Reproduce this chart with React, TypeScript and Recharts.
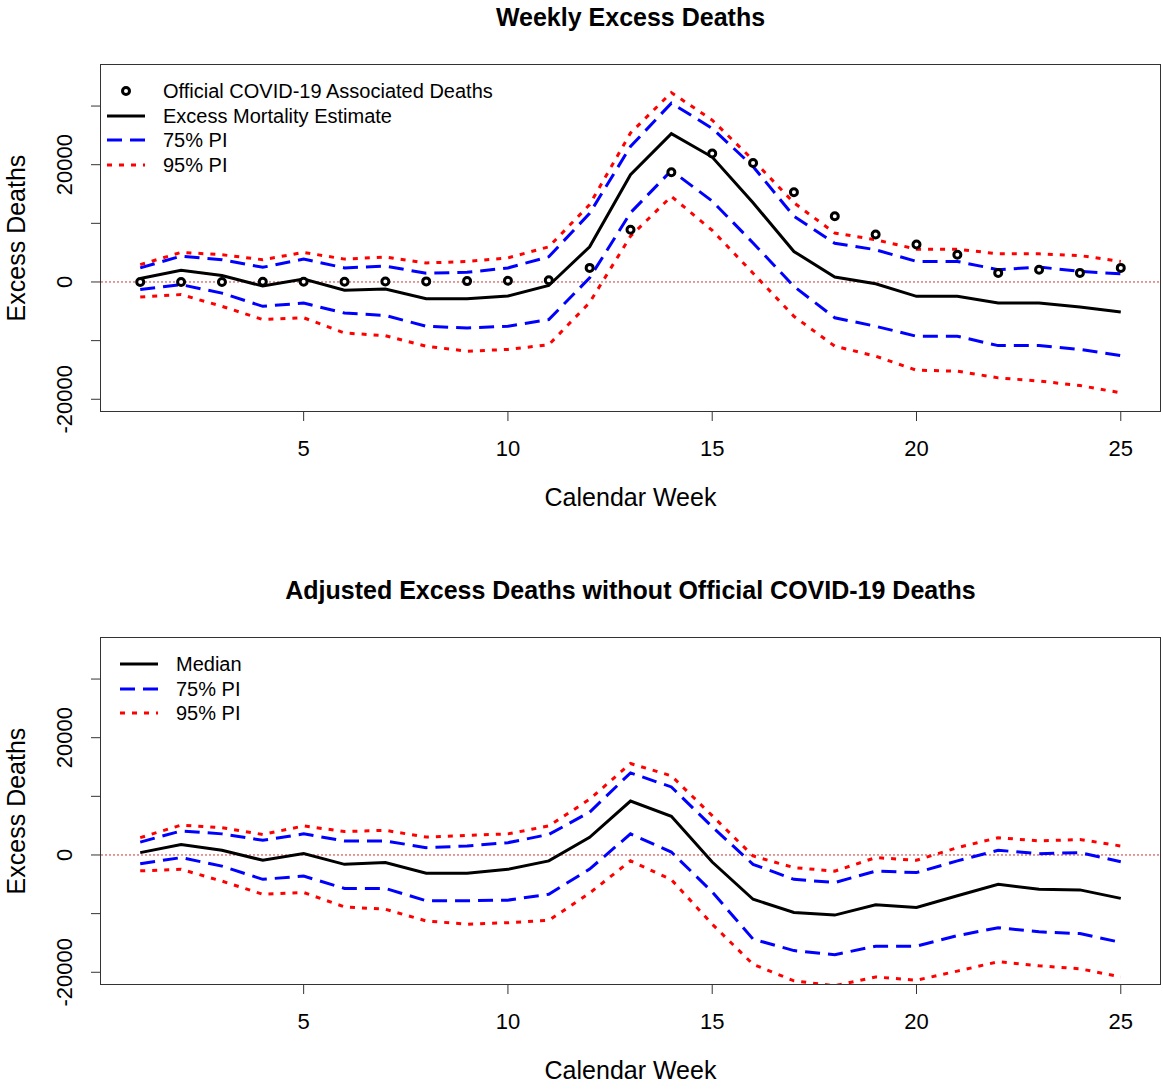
import React from "react";
import { LineChart, Line, XAxis, YAxis, ReferenceLine, Legend } from "recharts";

// calendar weeks 1..25
const weeks = [1, 2, 3, 4, 5, 6, 7, 8, 9, 10, 11, 12, 13, 14, 15, 16, 17, 18, 19, 20, 21, 22, 23, 24, 25];

// top panel: weekly excess deaths
const excessEstimate = [600, 2000, 1100, -700, 500, -1400, -1200, -2850, -2850, -2400, -600, 6000, 18300, 25300, 21300, 13500, 5200, 850, -300, -2450, -2450, -3600, -3600, -4250, -5100];
const officialDeaths = [0, 0, 10, 20, 30, 50, 80, 100, 150, 200, 300, 2400, 8900, 18700, 21900, 20300, 15300, 11200, 8100, 6400, 4650, 1550, 2100, 1550, 2400];
const excessHi75 = [2400, 4400, 3800, 2500, 3900, 2400, 2700, 1500, 1650, 2400, 4300, 11700, 23100, 30500, 26200, 19700, 11200, 6600, 5500, 3500, 3500, 2100, 2550, 1800, 1400];
const excessLo75 = [-1300, -450, -1900, -4150, -3600, -5300, -5700, -7550, -7850, -7550, -6400, 700, 11800, 19000, 13800, 6650, -740, -6100, -7550, -9250, -9250, -10850, -10850, -11500, -12550];
const excessHi95 = [2950, 5050, 4650, 3800, 5050, 3900, 4250, 3250, 3500, 4100, 6000, 13200, 25400, 32300, 27600, 20800, 13500, 8350, 7200, 5600, 5600, 4800, 4800, 4500, 3500];
const excessLo95 = [-2550, -2150, -4150, -6400, -6100, -8700, -9150, -10950, -11800, -11500, -10700, -3500, 7800, 14600, 8800, 1500, -5850, -10950, -12650, -15050, -15200, -16350, -16900, -17650, -18900];

// bottom panel: adjusted excess deaths without official covid deaths
const adjMedian = [400, 1800, 800, -900, 230, -1600, -1300, -3100, -3100, -2450, -1000, 3000, 9200, 6600, -1200, -7550, -9800, -10250, -8500, -8950, -6950, -5000, -5850, -5950, -7400];
const adjHi75 = [2200, 4100, 3600, 2500, 3600, 2400, 2400, 1250, 1530, 2100, 3500, 7300, 14000, 11600, 4800, -1600, -4150, -4700, -2750, -3000, -1000, 800, 230, 400, -1150];
const adjLo75 = [-1500, -450, -1900, -4150, -3600, -5700, -5700, -7800, -7800, -7700, -6700, -2400, 3600, 500, -6300, -14350, -16300, -17000, -15550, -15550, -13750, -12400, -13100, -13400, -14900];
const adjHi95 = [2950, 5100, 4650, 3500, 4950, 4000, 4200, 3050, 3350, 3600, 4950, 9500, 15600, 13500, 6700, -170, -2150, -2750, -450, -900, 1250, 2950, 2400, 2650, 1530];
const adjLo95 = [-2700, -2450, -4450, -6700, -6400, -8850, -9250, -11250, -11800, -11550, -11150, -6500, -1000, -4200, -11800, -18650, -21450, -22300, -20800, -21350, -19800, -18200, -18900, -19400, -20800];

const xTicks = [5, 10, 15, 20, 25];
const yTicks = [-20000, -10000, 0, 10000, 20000, 30000];
const yLabelled = [-20000, 0, 20000];

const FONT = '"Liberation Sans", Arial, Helvetica, sans-serif';
const W = 1163;
const CHART_H = 545;
const PLOT_L = 101;
const PLOT_R = 1160;
const PLOT_T = 65;
const PLOT_H = 346;

const topRows = weeks.map((week, i) => ({
  week,
  mid: excessEstimate[i],
  official: officialDeaths[i],
  hi75: excessHi75[i],
  lo75: excessLo75[i],
  hi95: excessHi95[i],
  lo95: excessLo95[i],
}));

const bottomRows = weeks.map((week, i) => ({
  week,
  mid: adjMedian[i],
  hi75: adjHi75[i],
  lo75: adjLo75[i],
  hi95: adjHi95[i],
  lo95: adjLo95[i],
}));

const DASH = "15 8";
const DOTS = "5 7";

function XTick(props: any) {
  const { x, y, payload } = props;
  return (
    <text x={x} y={y + 33} textAnchor="middle" fontSize={22} fontFamily={FONT} fill="#000">
      {payload.value}
    </text>
  );
}

function YTick(props: any) {
  const { x, y, payload } = props;
  if (!yLabelled.includes(payload.value)) return <g />;
  const bx = x - 17;
  return (
    <text
      x={bx}
      y={y}
      transform={`rotate(-90 ${bx} ${y})`}
      textAnchor="middle"
      fontSize={22}
      fontFamily={FONT}
      fill="#000"
    >
      {payload.value}
    </text>
  );
}

type LegendItem = { label: string; kind: "point" | "solid" | "dash" | "dots" };

function LegendBox({ items }: { items: LegendItem[] }) {
  const rowY = [13, 38, 62, 87];
  return (
    <svg width={420} height={100} style={{ overflow: "visible" }}>
      {items.map((it, i) => {
        const y = rowY[i];
        let sym: React.ReactNode = null;
        if (it.kind === "point") {
          sym = <circle cx={26} cy={y} r={3.5} fill="#fff" stroke="#000" strokeWidth={3} />;
        } else {
          const stroke = it.kind === "solid" ? "#000" : it.kind === "dash" ? "#0000ff" : "#ff0000";
          const dash = it.kind === "dash" ? DASH : it.kind === "dots" ? DOTS : undefined;
          sym = <line x1={7} x2={45} y1={y} y2={y} stroke={stroke} strokeWidth={3} strokeDasharray={dash} />;
        }
        return (
          <g key={it.label}>
            {sym}
            <text x={63} y={y + 7} fontSize={20} fontFamily={FONT} fill="#000">
              {it.label}
            </text>
          </g>
        );
      })}
    </svg>
  );
}

function Panel({
  top,
  title,
  rows,
  official,
  legend,
  legendLeft,
}: {
  top: number;
  title: string;
  rows: any[];
  official: boolean;
  legend: LegendItem[];
  legendLeft: number;
}) {
  return (
    <div style={{ position: "absolute", left: 0, top, width: W, height: CHART_H }}>
      <LineChart width={W} height={CHART_H} data={rows} margin={{ top: PLOT_T, right: W - PLOT_R, left: 0, bottom: 94 }}>
        <XAxis
          type="number"
          dataKey="week"
          domain={[0.04, 25.96]}
          ticks={xTicks}
          allowDataOverflow
          axisLine={false}
          tickLine={{ stroke: "#333" }}
          tickSize={10}
          height={40}
          interval={0}
          tick={<XTick />}
        />
        <YAxis
          type="number"
          domain={[-22000, 37000]}
          ticks={yTicks}
          allowDataOverflow
          width={PLOT_L}
          axisLine={false}
          tickLine={{ stroke: "#333" }}
          tickSize={10}
          interval={0}
          tick={<YTick />}
        />
        <ReferenceLine y={0} stroke="#cc3333" strokeDasharray="2 2" strokeWidth={1} />
        <Line dataKey="hi95" type="linear" stroke="#ff0000" strokeWidth={3} strokeDasharray={DOTS} dot={false} isAnimationActive={false} />
        <Line dataKey="lo95" type="linear" stroke="#ff0000" strokeWidth={3} strokeDasharray={DOTS} dot={false} isAnimationActive={false} />
        <Line dataKey="hi75" type="linear" stroke="#0000ff" strokeWidth={3} strokeDasharray={DASH} dot={false} isAnimationActive={false} />
        <Line dataKey="lo75" type="linear" stroke="#0000ff" strokeWidth={3} strokeDasharray={DASH} dot={false} isAnimationActive={false} />
        <Line dataKey="mid" type="linear" stroke="#000" strokeWidth={3} dot={false} isAnimationActive={false} />
        {official && (
          <Line
            dataKey="official"
            type="linear"
            stroke="none"
            dot={{ r: 3.5, fill: "#fff", stroke: "#000", strokeWidth: 3 }}
            isAnimationActive={false}
          />
        )}
        <Legend
          layout="vertical"
          align="center"
          verticalAlign="middle"
          content={() => <LegendBox items={legend} />}
          wrapperStyle={{ left: legendLeft, top: 78, width: 420, height: 100 }}
        />
      </LineChart>
      <div
        style={{
          position: "absolute",
          left: PLOT_L - 1,
          top: PLOT_T - 1,
          width: PLOT_R - PLOT_L + 2,
          height: PLOT_H + 2,
          border: "1.5px solid #333",
          boxSizing: "border-box",
          pointerEvents: "none",
        }}
      />
      <svg width={W} height={CHART_H} style={{ position: "absolute", left: 0, top: 0, pointerEvents: "none" }}>
        <text x={(PLOT_L + PLOT_R) / 2} y={26} textAnchor="middle" fontSize={25} fontWeight="bold" fontFamily={FONT} fill="#000">
          {title}
        </text>
        <text x={(PLOT_L + PLOT_R) / 2} y={506} textAnchor="middle" fontSize={25} fontFamily={FONT} fill="#000">
          Calendar Week
        </text>
        <text
          x={25}
          y={PLOT_T + PLOT_H / 2}
          transform={`rotate(-90 25 ${PLOT_T + PLOT_H / 2})`}
          textAnchor="middle"
          fontSize={25}
          fontFamily={FONT}
          fill="#000"
        >
          Excess Deaths
        </text>
      </svg>
    </div>
  );
}

export default function App() {
  return (
    <div style={{ position: "absolute", left: 0, top: 0, width: W, height: 1090, background: "#fff" }}>
      <Panel
        top={0}
        title="Weekly Excess Deaths"
        rows={topRows}
        official
        legendLeft={100}
        legend={[
          { label: "Official COVID-19 Associated Deaths", kind: "point" },
          { label: "Excess Mortality Estimate", kind: "solid" },
          { label: "75% PI", kind: "dash" },
          { label: "95% PI", kind: "dots" },
        ]}
      />
      <Panel
        top={573}
        title="Adjusted Excess Deaths without Official COVID-19 Deaths"
        rows={bottomRows}
        official={false}
        legendLeft={113}
        legend={[
          { label: "Median", kind: "solid" },
          { label: "75% PI", kind: "dash" },
          { label: "95% PI", kind: "dots" },
        ]}
      />
    </div>
  );
}
